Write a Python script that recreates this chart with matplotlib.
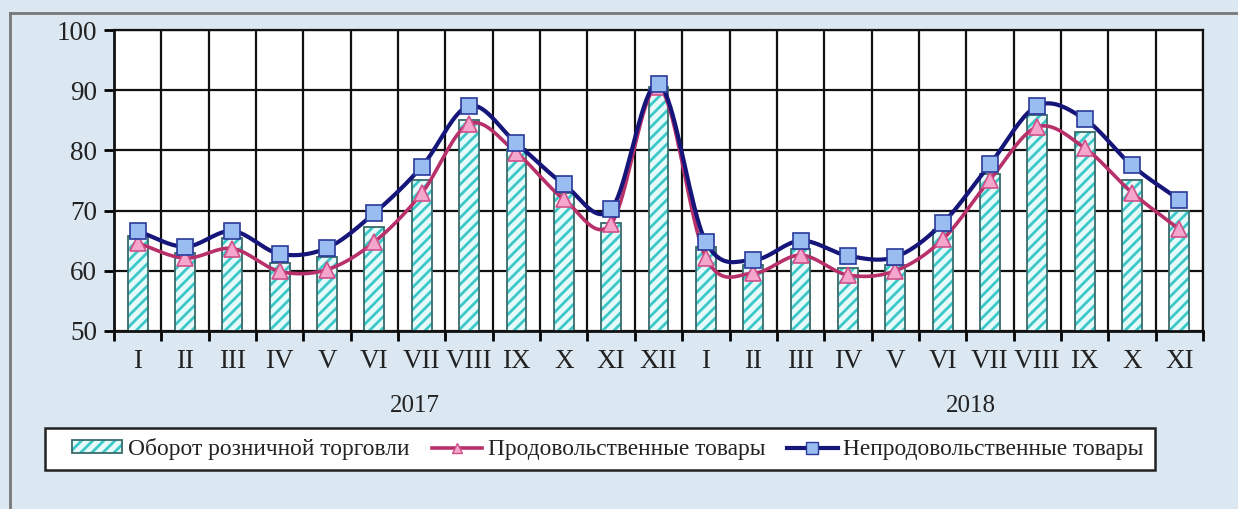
import numpy as np
import matplotlib
matplotlib.use("Agg")
import matplotlib.pyplot as plt
from matplotlib.lines import Line2D
from matplotlib.patches import Patch, Rectangle
from matplotlib.legend_handler import HandlerTuple
import matplotlib.transforms as mtransforms

months = ["I", "II", "III", "IV", "V", "VI", "VII", "VIII", "IX", "X", "XI", "XII",
          "I", "II", "III", "IV", "V", "VI", "VII", "VIII", "IX", "X", "XI"]
years = ["2017", "2018"]
year_pos = [5.85, 17.6]

total = [65.8, 62.9, 65.5, 61.3, 62.3, 67.3, 75.1, 85.0, 80.2, 73.0, 68.0, 90.5,
         64.0, 61.0, 63.7, 60.5, 61.0, 66.8, 76.0, 85.9, 83.0, 75.0, 70.0]
food = [64.6, 62.1, 63.7, 59.9, 60.2, 64.8, 72.9, 84.4, 79.6, 71.9, 67.8, 90.6,
        62.2, 59.6, 62.6, 59.3, 60.0, 65.2, 75.1, 83.9, 80.4, 73.0, 66.9]
nonfood = [66.6, 64.0, 66.6, 62.8, 63.8, 69.6, 77.3, 87.4, 81.2, 74.4, 70.2, 91.0,
           64.8, 61.8, 65.0, 62.5, 62.3, 67.9, 77.7, 87.4, 85.2, 77.5, 71.8]

labels = ["Оборот розничной торговли", "Продовольственные товары", "Непродовольственные товары"]


def smooth(xs, ys, n=20):
    xs = np.asarray(xs, float)
    ys = np.asarray(ys, float)
    px = np.concatenate([[2 * xs[0] - xs[1]], xs, [2 * xs[-1] - xs[-2]]])
    py = np.concatenate([[2 * ys[0] - ys[1]], ys, [2 * ys[-1] - ys[-2]]])
    ox, oy = [], []
    t = np.linspace(0, 1, n, endpoint=False)
    for i in range(1, len(px) - 2):
        p0x, p1x, p2x, p3x = px[i - 1:i + 3]
        p0y, p1y, p2y, p3y = py[i - 1:i + 3]
        c1x, c1y = p1x + (p2x - p0x) / 6, p1y + (p2y - p0y) / 6
        c2x, c2y = p2x - (p3x - p1x) / 6, p2y - (p3y - p1y) / 6
        bx = (1 - t) ** 3 * p1x + 3 * (1 - t) ** 2 * t * c1x + 3 * (1 - t) * t ** 2 * c2x + t ** 3 * p2x
        by = (1 - t) ** 3 * p1y + 3 * (1 - t) ** 2 * t * c1y + 3 * (1 - t) * t ** 2 * c2y + t ** 3 * p2y
        ox.extend(bx)
        oy.extend(by)
    ox.append(xs[-1])
    oy.append(ys[-1])
    return np.array(ox), np.array(oy)


plt.rcParams['font.family'] = ['Liberation Serif', 'DejaVu Serif']
plt.rcParams['hatch.linewidth'] = 2.0

BG = '#dbe7f1'
W, H = 1238, 509
fig = plt.figure(figsize=(W / 100, H / 100), dpi=100, facecolor=BG)
ax = fig.add_axes([114 / W, 1 - 331 / H, (1203 - 114) / W, (331 - 30) / H])
ax.set_facecolor('white')

x = np.arange(len(months))
bw = 0.42
ax.bar(x, total, bw, bottom=0, color='#e6fafa', edgecolor='#3cc8c8',
       hatch='///', linewidth=0, zorder=3)
ax.bar(x, total, bw, fill=False, edgecolor='#3a6a6a', linewidth=1.3, zorder=4)

sxf, syf = smooth(x, food)
ax.plot(sxf, syf, color='#b8306a', lw=2.6, zorder=5, solid_capstyle='round')
ax.plot(x, food, ls='none', marker='^', ms=11, mfc='#f4a6cc', mec='#d0508a', mew=1.2, zorder=6)

sxn, syn = smooth(x, nonfood)
ax.plot(sxn, syn, color='#15157a', lw=3.0, zorder=7, solid_capstyle='round')
ax.plot(x, nonfood, ls='none', marker='s', ms=12, mfc='#99bdf0', mec='#2a3a9a', mew=1.2, zorder=8)

ax.set_xlim(-0.5, len(months) - 0.5)
ax.set_ylim(50, 100)
ax.set_yticks(np.arange(50, 101, 10))
ax.set_xticks(x)
ax.set_xticklabels(months)
ax.set_xticks(np.arange(-0.5, len(months), 1), minor=True)
ax.tick_params(axis='x', which='major', length=0, pad=13, labelsize=19.5, colors='#222222')
ax.tick_params(axis='x', which='minor', length=7, width=2, direction='out', color='black')
ax.tick_params(axis='y', length=7, width=2, direction='out', labelsize=19.5, pad=5, colors='black',
               labelcolor='#222222')
ax.grid(True, axis='y', color='#111111', lw=1.6, zorder=1)
ax.grid(True, axis='x', which='minor', color='#111111', lw=1.6, zorder=1)
for s in ax.spines.values():
    s.set_linewidth(2.0)
    s.set_color('#111111')
    s.set_zorder(9)
ax.spines['top'].set_linewidth(1.6)
ax.spines['right'].set_linewidth(1.6)

trans = mtransforms.blended_transform_factory(ax.transData, ax.transAxes)
for yr, pos in zip(years, year_pos):
    ax.text(pos, -0.248, yr, transform=trans, ha='center', va='center', fontsize=18, color='#222222')

# frame lines of the figure
fig.add_artist(Line2D([10 / W, 1], [1 - 13 / H, 1 - 13 / H], transform=fig.transFigure,
                      color='#777777', lw=2))
fig.add_artist(Line2D([10 / W, 10 / W], [0, 1 - 13 / H], transform=fig.transFigure,
                      color='#777777', lw=2))

# legend box
fig.add_artist(Rectangle((45 / W, 1 - 470 / H), (1155 - 45) / W, 42 / H, transform=fig.transFigure,
                         facecolor='white', edgecolor='#222222', lw=1.8, zorder=2))

h1 = (Patch(facecolor='#e6fafa', edgecolor='#3cc8c8', hatch='///', linewidth=0),
      Patch(fill=False, edgecolor='#3a6a6a', linewidth=1.3))
h2 = Line2D([], [], color='#b8306a', lw=2.6, marker='^', ms=7, mfc='#f4a6cc', mec='#d0508a')
h3 = Line2D([], [], color='#15157a', lw=3.0, marker='s', ms=8, mfc='#99bdf0', mec='#2a3a9a')
leg = fig.legend([h1, h2, h3], labels, loc='center left',
                 bbox_to_anchor=(72 / W, 1 - 449 / H),
                 ncol=3, frameon=False, fontsize=16.8, handlelength=2.15,
                 handleheight=0.45, handletextpad=0.25, columnspacing=0.95, borderpad=0,
                 borderaxespad=0,
                 handler_map={tuple: HandlerTuple(ndivide=1, pad=0)})
leg.set_zorder(3)
for t in leg.get_texts():
    t.set_color('#222222')

fig.savefig('out.png', dpi=100, facecolor=BG)
